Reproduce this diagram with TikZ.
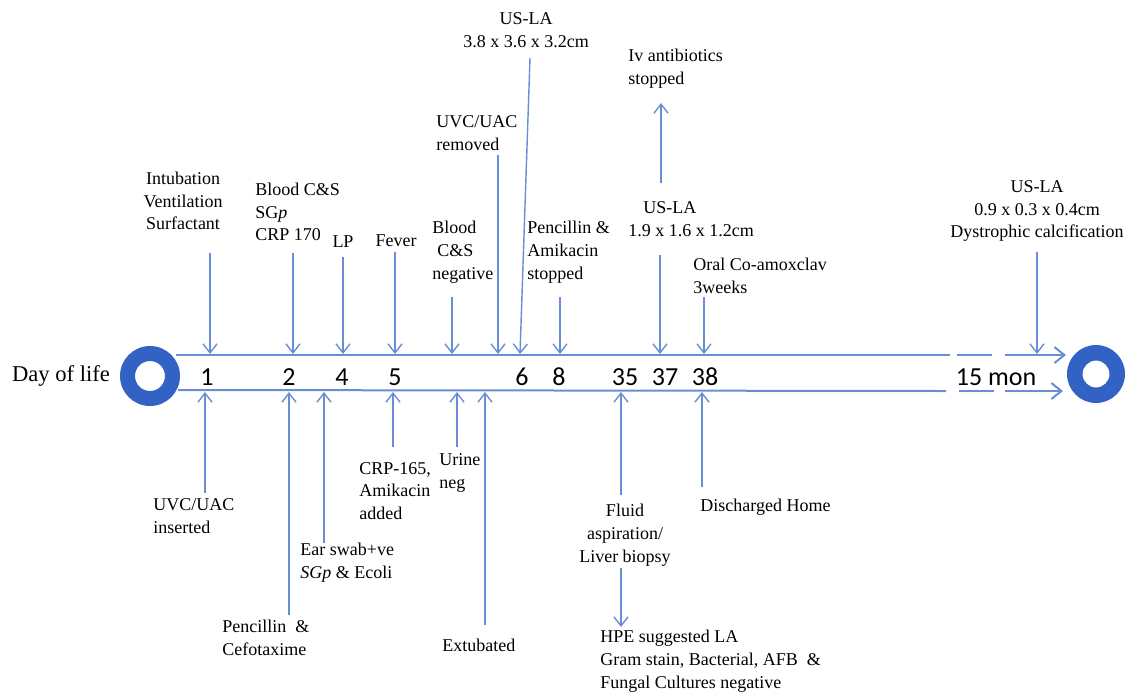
\documentclass[tikz,border=0pt]{standalone}
\usepackage{fontspec}
\setmainfont{Liberation Serif}
\newfontfamily\numfont{Carlito}
\usetikzlibrary{arrows.meta}
\definecolor{linecol}{RGB}{105,142,212}
\definecolor{ringcol}{RGB}{50,98,196}
\begin{document}
\begin{tikzpicture}[x=0.5pt,y=-0.5pt,
  lbl/.style={font=\fontsize{9}{11.4}\selectfont, inner sep=0pt, align=left, anchor=west},
  lblc/.style={font=\fontsize{9}{11.4}\selectfont, inner sep=0pt, align=center},
  num/.style={font=\numfont\fontsize{13}{15}\selectfont, inner sep=0pt},
  arr/.style={draw=linecol, line width=0.7pt, -{Straight Barb[length=4.5pt,width=7pt]}},
  tline/.style={draw=linecol, line width=1pt},
  tarr/.style={draw=linecol, line width=1pt, -{Straight Barb[length=5pt,width=8pt]}},
  ring/.style={fill=ringcol, even odd rule}
]
\useasboundingbox (0,0) rectangle (1130,692);

% rings
\fill[ring] (150,376) circle (30) (150,376) circle (15);
\fill[ring] (1096,374) circle (29) (1096,374) circle (13.5);
\node (ringL) at (150,376) {};
\node (ringR) at (1096,374) {};

% timeline
\coordinate (t0) at (176,355);
\coordinate (t1) at (950,355);
\coordinate (t2) at (957,355);
\coordinate (t3) at (992,355);
\coordinate (t4) at (1005,355);
\coordinate (t5) at (1066,355);
\coordinate (u0) at (178,390);
\coordinate (u1) at (946,391);
\coordinate (u2) at (959,391);
\coordinate (u3) at (994,391);
\coordinate (u4) at (1005,391);
\coordinate (u5) at (1063,391);
\draw[tline] (t0) -- (t1);
\draw[tline] (t2) -- (t3);
\draw[tarr] (t4) -- (t5);
\draw[tline] (u0) -- (u1);
\draw[tline] (u2) -- (u3);
\draw[tarr] (u4) -- (u5);

% axis labels
\node[font=\fontsize{11.3}{13}\selectfont, inner sep=0pt] (dol) at (61,376) {Day of life};
\node[num] (n1) at (207,377) {1};
\node[num] (n2) at (289,377) {2};
\node[num] (n4) at (342,377) {4};
\node[num] (n5) at (395,377) {5};
\node[num] (n6) at (522,377) {6};
\node[num] (n8) at (559,377) {8};
\node[num] (n35) at (625,377) {35};
\node[num] (n37) at (665,377) {37};
\node[num] (n38) at (705,377) {38};
\node[num] (n15) at (996,377) {15 mon};

% top labels
\node[lblc] (l1) at (183,201) {Intubation\\Ventilation\\Surfactant};
\node[lbl] (l2) at (255,212) {Blood C\&S\\SG\textit{p}\\CRP 170};
\node[lblc] (l3) at (343,242) {LP};
\node[lblc] (l4) at (396,241) {Fever};
\node[lbl] (l5) at (432,252) {Blood\\\hspace{2.5pt}C\&S\\negative};
\node[lbl] (l6) at (436,133) {UVC/UAC\\removed};
\node[lblc] (l7) at (526,30) {US-LA\\3.8 x 3.6 x 3.2cm};
\node[lbl] (l8) at (527,252) {Pencillin \&\\Amikacin\\stopped};
\node[lbl] (l9) at (628,69) {Iv antibiotics\\stopped};
\node[lbl] (l10) at (628,219) {\hspace{7.5pt}US-LA\\1.9 x 1.6 x 1.2cm};
\node[lbl] (l11) at (693,276) {Oral Co-amoxclav\\3weeks};
\node[lblc] (l12) at (1037,211) {US-LA\\0.9 x 0.3 x 0.4cm\\Dystrophic calcification};

% bottom labels
\node[lbl] (m1) at (153,516) {UVC/UAC\\inserted};
\node[lbl] (m2) at (222,638) {Pencillin\ \ \&\\Cefotaxime};
\node[lbl] (m3) at (300,563) {Ear swab+ve\\\textit{SGp} \& Ecoli};
\node[lbl] (m4) at (359,491) {CRP-165,\\Amikacin\\added};
\node[lbl] (m5) at (439,473) {Urine\\neg};
\node[lbl] (m6) at (442,645) {Extubated};
\node[lblc] (m7) at (625,535) {Fluid\\aspiration/\\Liver biopsy};
\node[lbl] (m8) at (600,661) {HPE suggested LA\\Gram stain, Bacterial, AFB \ \&\\Fungal Cultures negative};
\node[lbl] (m9) at (700,507) {Discharged Home};

% top arrows
\coordinate (a1s) at (210,253);  \coordinate (a1e) at (210,354);
\coordinate (a2s) at (293,253);  \coordinate (a2e) at (293,354);
\coordinate (a3s) at (343,257);  \coordinate (a3e) at (343,354);
\coordinate (a4s) at (395,252);  \coordinate (a4e) at (395,354);
\coordinate (a5s) at (452,297);  \coordinate (a5e) at (452,354);
\coordinate (a6s) at (498,155);  \coordinate (a6e) at (498,354);
\coordinate (a7s) at (530,58);   \coordinate (a7e) at (520,354);
\coordinate (a8s) at (560,297);  \coordinate (a8e) at (560,354);
\coordinate (a9s) at (660,255);  \coordinate (a9e) at (660,354);
\coordinate (a10s) at (661,183); \coordinate (a10e) at (661,103);
\coordinate (a11s) at (704,297); \coordinate (a11e) at (704,354);
\coordinate (a12s) at (1037,252);\coordinate (a12e) at (1037,354);
\foreach \i in {1,...,12}{\draw[arr] (a\i s) -- (a\i e);}

% bottom arrows
\coordinate (b1s) at (205,493);  \coordinate (b1e) at (205,392);
\coordinate (b2s) at (289,615);  \coordinate (b2e) at (289,392);
\coordinate (b3s) at (324,543);  \coordinate (b3e) at (324,392);
\coordinate (b4s) at (393,447);  \coordinate (b4e) at (393,392);
\coordinate (b5s) at (457,447);  \coordinate (b5e) at (457,392);
\coordinate (b6s) at (485,625);  \coordinate (b6e) at (485,392);
\coordinate (b7s) at (621,495);  \coordinate (b7e) at (621,392);
\coordinate (b8s) at (621,568);  \coordinate (b8e) at (621,627);
\coordinate (b9s) at (702,487);  \coordinate (b9e) at (702,392);
\foreach \i in {1,...,9}{\draw[arr] (b\i s) -- (b\i e);}
\end{tikzpicture}
\end{document}
